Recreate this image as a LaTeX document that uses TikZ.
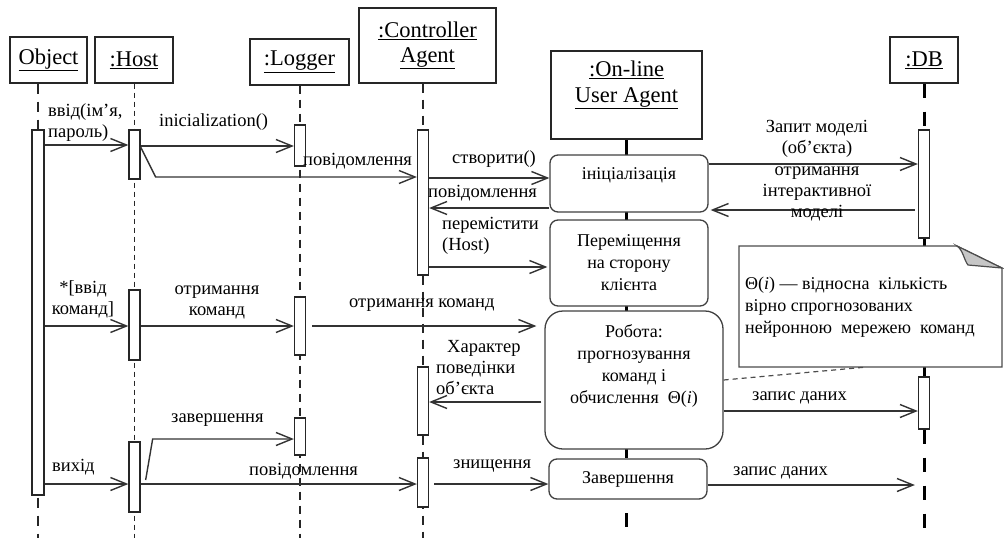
\documentclass[tikz,border=0pt]{standalone}
\usepackage{fontspec}
\setmainfont{Liberation Serif}
\usetikzlibrary{arrows.meta,backgrounds}

\tikzset{
  head/.style={draw=black!85, line width=1.3pt, fill=white, inner sep=0pt, align=center,
    font=\fontsize{22.5}{25}\selectfont},
  headtext/.style={inner sep=0pt, align=center, font=\fontsize{22.5}{26}\selectfont},
  act/.style={draw=black!85, line width=1.3pt, fill=white, inner sep=0pt, minimum width=11pt},
  state/.style={draw=black!75, line width=1.3pt, rounded corners=8pt, fill=white, inner sep=0pt,
    align=center, font=\fontsize{18}{22}\selectfont},
  lab/.style={inner sep=0pt, font=\fontsize{18.5}{21}\selectfont},
  msg/.style={draw=black!80, line width=1.4pt,
    -{Straight Barb[length=16pt,width=13pt,line width=1.4pt]}},
  lifeObj/.style={draw=black!85, line width=1.5pt, dash pattern=on 10pt off 8pt},
  lifeHost/.style={draw=black!85, line width=1.1pt, dash pattern=on 5pt off 4pt},
  lifeLog/.style={draw=black!85, line width=2pt, dash pattern=on 8pt off 6pt},
  lifeCtl/.style={draw=black!85, line width=1.5pt, dash pattern=on 9pt off 7pt},
  lifeAgent/.style={draw=black, line width=3.5pt},
  lifeDB/.style={draw=black, line width=3pt, dash pattern=on 14pt off 14pt},
  lifeDBs/.style={draw=black, line width=3pt},
  noteline/.style={draw=black!70, line width=1.2pt},
}

\begin{document}
\begin{tikzpicture}[x=1pt,y=-1pt]
\useasboundingbox (0,0) rectangle (1004,538);

% ---------- object headers ----------
\node[head, minimum width=77pt, minimum height=46pt] (hObj) at (48.5,60) {\underline{Object}};
\node[head, minimum width=78pt, minimum height=46pt] (hHost) at (134,60) {\underline{:Host}};
\node[head, minimum width=99pt, minimum height=46pt] (hLog) at (299.5,62) {\underline{:Logger}};
\node[head, minimum width=137pt, minimum height=75pt] (hCtl) at (427.5,45.5)
  {\underline{:Controller}\\\underline{Agent}};
\node[head, minimum width=151pt, minimum height=88pt] (hAgent) at (626.5,95) {};
\node[headtext] (hAgentT) at (626.5,85) {\underline{:On-line}\\\underline{User Agent}};
\node[head, minimum width=68pt, minimum height=46pt] (hDB) at (924,60) {\underline{:DB}};

% ---------- activation bars ----------
\node[act, minimum width=12pt, minimum height=365pt] (objA) at (38,312.5) {};
\node[act, minimum height=49pt] (hostA1) at (134.5,154.5) {};
\node[act, minimum height=70pt] (hostA2) at (134.5,325) {};
\node[act, minimum height=70pt] (hostA3) at (134.5,477) {};
\node[act, minimum height=41pt] (logA1) at (300,145.5) {};
\node[act, minimum height=58pt] (logA2) at (300,326) {};
\node[act, minimum height=37pt] (logA3) at (300,436.5) {};
\node[act, minimum height=145pt] (ctlA1) at (423,202.5) {};
\node[act, minimum height=68pt] (ctlA2) at (423,401) {};
\node[act, minimum height=49pt] (ctlA3) at (423,482.5) {};
\node[act, minimum height=108pt] (dbA1) at (924,184) {};
\node[act, minimum height=52pt] (dbA2) at (924,403) {};

% ---------- states of the on-line user agent ----------
\node[state, minimum width=158pt, minimum height=57pt] (st1) at (629,183.5) {};
\node[lab, font=\fontsize{18}{22}\selectfont] (st1T) at (629,175) {ініціалізація};
\node[state, minimum width=158pt, minimum height=86pt] (st2) at (629,263)
  {Переміщення\\на сторону\\клієнта};
\node[state, rounded corners=18pt, minimum width=178pt, minimum height=138pt] (st3) at (634,380) {};
\node[lab, align=center, font=\fontsize{18}{22}\selectfont] (st3T) at (634,366)
  {Робота:\\прогнозування\\команд і\\обчислення\ \ Θ(\textit{i})};
\node[state, minimum width=158pt, minimum height=40pt] (st4) at (628,479) {Завершення};

% ---------- note ----------
\coordinate (nTL) at (739,246);
\coordinate (nF) at (957,246);
\coordinate (nFold) at (968,265);
\coordinate (nR) at (1002,268);
\coordinate (nBR) at (1002,367);
\coordinate (nBL) at (739,367);
\coordinate (nFoot) at (867,367);
\draw[noteline, fill=white] (nTL) -- (nF) -- (nR) -- (nBR) -- (nBL) -- cycle;
\draw[noteline, fill=gray!45] (nF) .. controls (963,250) and (964,260) .. (nFold) -- (nR) -- cycle;
\node[lab, align=left, anchor=west, font=\fontsize{18}{22}\selectfont] (noteT) at (745,307)
  {Θ(\textit{i}) — відносна\ \ кількість\\вірно спрогнозованих\\нейронною\ \ мережею\ \ команд};

% ---------- lifelines ----------
\coordinate (objBot) at (38,538);
\coordinate (hostBot) at (134.5,538);
\coordinate (logBot) at (300,538);
\coordinate (ctlBot) at (423,538);
\coordinate (dbBot) at (924,538);
\coordinate (agDashA) at (626.5,513);
\coordinate (agDashB) at (626.5,527);
\begin{scope}[on background layer]
  \draw[lifeObj] (objA.north |- hObj.south) -- (objBot);
  \draw[lifeHost] (hHost.south -| hostA1.north) -- (hostBot);
  \draw[lifeLog] (hLog.south -| logA1.north) -- (logBot);
  \draw[lifeCtl] (hCtl.south -| ctlA1.north) -- (ctlBot);
  \draw[lifeAgent] (hAgent.south) -- (hAgent.south |- st4.north);
  \draw[lifeAgent] (agDashA) -- (agDashB);
  \draw[lifeDB] (hDB.south) -- (dbA1.north);
  \draw[lifeDBs] (dbA1.south) -- (dbA1.south |- nTL);
  \draw[lifeDBs] (dbA2.north |- nBL) -- (dbA2.north);
  \draw[lifeDB] (dbA2.south) -- (dbBot);
\end{scope}

% ---------- message rows ----------
\coordinate (rLogin) at (0,145);
\coordinate (rInit) at (0,146);
\coordinate (rHostOut) at (0,147);
\coordinate (rMsg1) at (0,177);
\coordinate (rCreate) at (0,178);
\coordinate (rQuery) at (0,164);
\coordinate (rReply) at (0,208);
\coordinate (rModel) at (0,210);
\coordinate (rMove) at (0,267);
\coordinate (rCmd) at (0,326);
\coordinate (rNote) at (0,380);
\coordinate (rBehav) at (0,402);
\coordinate (rLog1) at (0,411);
\coordinate (rEndStart) at (0,480);
\coordinate (rEnd) at (0,439);
\coordinate (rExit) at (0,484);
\coordinate (rLog2) at (0,485);

% ---------- messages ----------
\draw[msg] (objA.east |- rLogin) -- (hostA1.west |- rLogin);
\draw[msg] (hostA1.east |- rInit) -- (logA1.west |- rInit);
\draw[msg] (hostA1.east |- rHostOut) -- ++(15,30) -- (ctlA1.west |- rMsg1);
\draw[msg] (ctlA1.east |- rCreate) -- (st1.west |- rCreate);
\draw[msg] (st1.west |- rReply) -- (ctlA1.east |- rReply);
\draw[msg] (st1.east |- rQuery) -- (dbA1.west |- rQuery);
\draw[msg] ([xshift=-3pt]dbA1.west |- rModel) -- ([xshift=2pt]st1.east |- rModel);
\draw[msg] (ctlA1.east |- rMove) -- ([xshift=-2pt]st2.west |- rMove);
\draw[msg] (objA.east |- rCmd) -- (hostA2.west |- rCmd);
\draw[msg] (hostA2.east |- rCmd) -- (logA2.west |- rCmd);
\draw[msg] ([xshift=6pt]logA2.east |- rCmd) -- ([xshift=-8pt]st3.west |- rCmd);
\draw[msg] ([xshift=-3pt]st3.west |- rBehav) -- (ctlA2.east |- rBehav);
\draw[msg] (st3.east |- rLog1) -- (dbA2.west |- rLog1);
\draw[msg] ([xshift=5pt]hostA3.east |- rEndStart) -- ++(7,-41) -- (logA3.west |- rEnd);
\draw[msg] (objA.east |- rExit) -- (hostA3.west |- rExit);
\draw[msg] (hostA3.east |- rExit) -- (ctlA3.west |- rExit);
\draw[msg] ([xshift=5pt]ctlA3.east |- rExit) -- (st4.west |- rExit);
\draw[msg] (st4.east |- rLog2) -- ([xshift=-3pt]dbA2.west |- rLog2);
\draw[noteline, dash pattern=on 5pt off 4pt] (st3.east |- rNote) -- (nFoot);

% ---------- message labels ----------
\node[lab, align=left, anchor=west] (lLogin) at (48,122.5) {ввід(ім’я,\\пароль)};
\node[lab, anchor=west] (lInit) at (159,122) {inicialization()};
\node[lab, anchor=west] (lMsg1) at (303,161) {повідомлення};
\node[lab, anchor=west] (lCreate) at (452,159) {створити()};
\node[lab, anchor=west] (lReply) at (428,193) {повідомлення};
\node[lab, align=left, anchor=west] (lMove) at (442,236) {перемістити\\(Host)};
\node[lab, align=center] (lCmdIn) at (83,299.5) {*[ввід\\команд]};
\node[lab, align=center] (lCmdHost) at (217,302.5) {отримання\\команд};
\node[lab, anchor=west] (lCmdLog) at (349,305) {отримання команд};
\node[lab, align=left, anchor=west] (lBehav) at (436,368) {\hspace*{11pt}Характер\\поведінки\\об’єкта};
\node[lab, anchor=west] (lLog1) at (752,398) {запис даних};
\node[lab, anchor=west] (lEnd) at (171,420) {завершення};
\node[lab, anchor=west] (lExit) at (52,467) {вихід};
\node[lab, anchor=west] (lMsg2) at (249,471) {повідомлення};
\node[lab, anchor=west] (lKill) at (453,466) {знищення};
\node[lab, anchor=west] (lLog2) at (733,473) {запис даних};
\node[lab, align=center] (lQuery) at (817,138.5) {Запит моделі\\(об’єкта)};
\node[lab, align=center] (lModel) at (817,194) {отримання\\інтерактивної\\моделі};
\end{tikzpicture}
\end{document}
